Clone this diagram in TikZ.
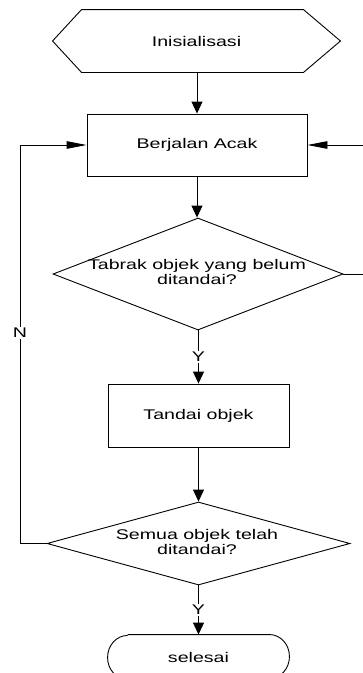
\documentclass[tikz,border=0pt]{standalone}
\usepackage{fontspec}
\setmainfont{Liberation Sans}[FakeStretch=1.4]
\usetikzlibrary{arrows.meta,shapes.geometric}
\begin{document}
\begin{tikzpicture}[x=1pt,y=-1pt,line width=0.9pt,
  txt/.style={font=\fontsize{14}{15}\selectfont,align=center,inner sep=0pt},
  lbl/.style={font=\fontsize{14}{15}\selectfont,fill=white,inner sep=1pt},
  procbox/.style={draw,minimum width=#1,minimum height=62pt,inner sep=0pt,font=\fontsize{14}{15}\selectfont},
  shapeholder/.style={draw=none,inner sep=0pt},
  vtip/.style={-{Triangle[length=12pt,width=11pt]}},
  htip/.style={-{Triangle[length=20pt,width=7.5pt]}}]
\useasboundingbox (0,0) rectangle (363,673);
\clip (0,0) rectangle (363,673);
% start hexagon
\node[shapeholder,minimum width=287pt,minimum height=62pt] (init) at (196.5,41) {};
\draw (init.west) -- ([xshift=29pt]init.north west) -- ([xshift=-37pt]init.north east)
  -- (init.east) -- ([xshift=-37pt]init.south east) -- ([xshift=29pt]init.south west) -- cycle;
\node[txt] (initt) at (init.center) {Inisialisasi};
% process boxes
\node[procbox=220pt] (walk) at (197,145) {Berjalan Acak};
\node[procbox=181pt,minimum height=63pt] (mark) at (198.5,415.5) {Tandai objek};
% decisions
\node[diamond,draw,minimum width=290pt,minimum height=112pt,inner sep=0pt] (hit) at (198,274) {};
\node[txt] (hitt) at (197,272) {Tabrak objek yang belum\\ditandai?};
\node[diamond,draw,minimum width=303pt,minimum height=83pt,inner sep=0pt] (all) at (198.5,543.5) {};
\node[txt] (allt) at (197,542) {Semua objek telah\\ditandai?};
% terminal
\node[shapeholder,minimum width=181pt,minimum height=44pt] (done) at (198.5,657) {};
\draw ([xshift=20pt]done.north west) -- ([xshift=-20pt]done.north east)
  arc[x radius=20pt,y radius=22pt,start angle=90,end angle=-90]
  -- ([xshift=20pt]done.south west)
  arc[x radius=20pt,y radius=22pt,start angle=270,end angle=90];
\node[txt] (donet) at (done.center) {selesai};
% connectors
\draw[vtip] (init.south -| walk.north) -- (walk.north);
\draw[vtip] (walk.south) -- (walk.south |- hit.north);
\draw[vtip] (hit.south -| mark.north) -- node[lbl] (y1) {Y} (mark.north);
\draw[vtip] (mark.south -| all.north) -- (all.north);
\draw[vtip] (all.south -| done.north) -- node[lbl] (y2) {Y} (done.north);
% loops
\coordinate (lb) at (20,543.5);
\coordinate (lt) at (20,145);
\coordinate (rb) at (366,274);
\coordinate (rt) at (366,145);
\draw[htip] (all.west) -- (lb) -- (lt) -- (walk.west);
\node[lbl] (nlab) at (20,333) {N};
\draw[htip] (hit.east) -- (rb) -- (rt) -- (walk.east);
\end{tikzpicture}
\end{document}
